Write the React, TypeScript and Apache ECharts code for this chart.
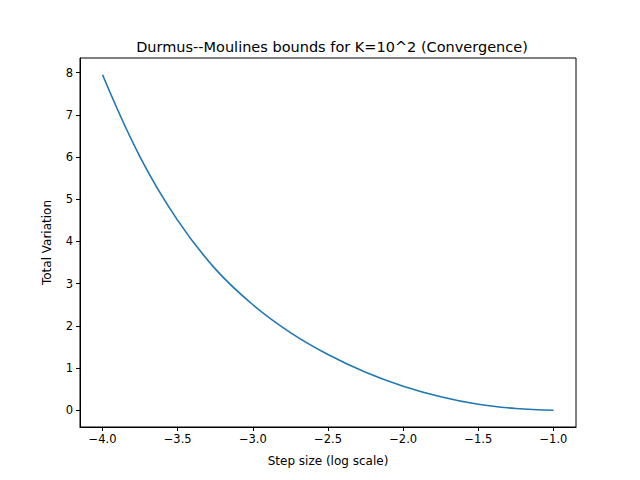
import React, { useEffect, useRef } from "react";
import * as echarts from "echarts";

const xs = [-4, -3.75, -3.5, -3.25, -3, -2.75, -2.5, -2.25, -2, -1.75, -1.5, -1.25, -1];
const ys = [7.95, 6.0, 4.5, 3.35, 2.5, 1.84, 1.32, 0.9, 0.57, 0.32, 0.14, 0.04, 0.0];
const xTicks = [-4, -3.5, -3, -2.5, -2, -1.5, -1];

export default function App() {
  const ref = useRef<HTMLDivElement>(null);
  useEffect(() => {
    const chart = echarts.init(ref.current!, null, { renderer: "svg" });
    const font = "DejaVu Sans";
    chart.setOption({
      animation: false,
      textStyle: { fontFamily: font },
      title: {
        text: "Durmus--Moulines bounds for K=10^2 (Convergence)",
        left: 327, top: 34, textAlign: "center",
        textStyle: { fontFamily: font, fontSize: 14.5, fontWeight: "normal", color: "#000" },
      },
      grid: { left: 80, right: 64, top: 58, bottom: 53 },
      xAxis: {
        type: "value", min: -4.15, max: -0.85,
        name: "Step size (log scale)", nameLocation: "middle", nameGap: 28,
        nameTextStyle: { fontFamily: font, fontSize: 12, color: "#000" },
        axisLine: { onZero: false, lineStyle: { color: "#000" } },
        axisTick: { show: true, length: 4, lineStyle: { color: "#000" }, customValues: xTicks },
        axisLabel: { fontFamily: font, fontSize: 11.5, color: "#000", customValues: xTicks,
          formatter: (v: number) => v.toFixed(1).replace("-", "−"), margin: 6 },
        splitLine: { show: false },
      },
      yAxis: {
        type: "value", min: -0.3975, max: 8.3475,
        name: "Total Variation", nameLocation: "middle", nameGap: 27,
        nameTextStyle: { fontFamily: font, fontSize: 12, color: "#000" },
        axisLine: { show: true, lineStyle: { color: "#000" } },
        axisTick: { show: true, length: 4, lineStyle: { color: "#000" }, customValues: [0,1,2,3,4,5,6,7,8] },
        axisLabel: { fontFamily: font, fontSize: 11.5, color: "#000", customValues: [0,1,2,3,4,5,6,7,8], margin: 7 },
        splitLine: { show: false },
      },
      graphic: [{ type: "rect", shape: { x: 80, y: 58, width: 496, height: 369 },
        style: { fill: "none", stroke: "#000", lineWidth: 1 }, silent: true }],
      series: [{
        type: "line", data: xs.map((x, i) => [x, ys[i]]), smooth: 0.4, showSymbol: false,
        lineStyle: { color: "#1f77b4", width: 1.6 },
      }],
    });
    return () => chart.dispose();
  }, []);
  return <div ref={ref} style={{ width: 640, height: 480, margin: -8 }} />;
}
